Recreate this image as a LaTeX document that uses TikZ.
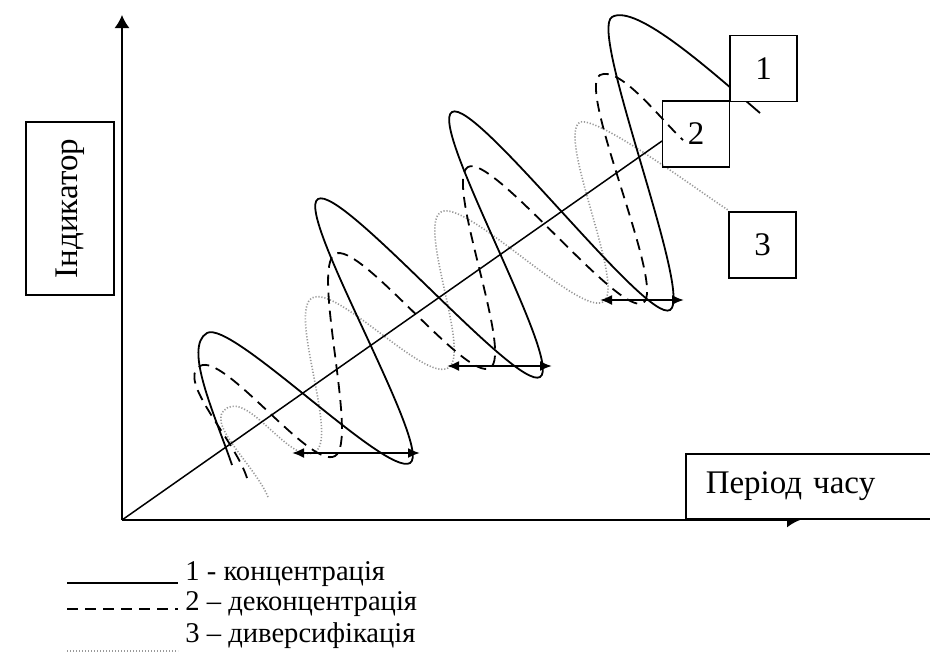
\documentclass[tikz,border=0pt]{standalone}
\usepackage{fontspec}
\setmainfont{Liberation Serif}
\usetikzlibrary{arrows.meta}

\begin{document}
\begin{tikzpicture}[x=0.5pt,y=-0.5pt,font=\fontsize{16.5}{19}\selectfont,
  labelbox/.style={draw,line width=0.75pt,inner sep=0pt},
  numbox/.style={labelbox,minimum width=33.5pt,minimum height=33pt},
  curve1/.style={line width=0.9pt},
  curve2/.style={line width=0.9pt,dash pattern=on 5.5pt off 3.5pt},
  curve3/.style={line width=0.8pt,black!40,dash pattern=on 0.6pt off 0.9pt},
  axisline/.style={line width=0.75pt,-{Latex[length=6.5pt,width=7.5pt]}},
  spanarrow/.style={line width=1pt,{Latex[length=6pt,width=5pt]}-{Latex[length=6pt,width=5pt]}},
  legtext/.style={anchor=base west,inner sep=0pt,font=\fontsize{14.3}{16}\selectfont}]
  \useasboundingbox (0,0) rectangle (930,654);
  \coordinate (o) at (122,520);
  \coordinate (ytip) at (122,15);
  \coordinate (xtip) at (800,520);
  \coordinate (diagend) at (662,141);
  \draw[curve3] (268,497) .. controls (255,465) and (203,422) .. (227,408)
    .. controls +(24,-14) and +(-24,14) .. (315,452)
    .. controls +(24,-14) and +(-24,14) .. (312,298)
    .. controls +(24,-14) and +(-24,14) .. (448,368)
    .. controls +(24,-14) and +(-24,14) .. (441,212)
    .. controls +(24,-14) and +(-24,14) .. (603,302)
    .. controls +(24,-14) and +(-24,14) .. (580,122)
    .. controls +(20,-5) and (700,192) .. (728,210);
  \draw[curve2] (247,478) .. controls (235,440) and (176,380) .. (200,366)
    .. controls +(24,-14) and +(-24,14) .. (335,456)
    .. controls +(24,-14) and +(-24,14) .. (335,254)
    .. controls +(24,-14) and +(-24,14) .. (490,368)
    .. controls +(24,-14) and +(-24,14) .. (468,167)
    .. controls +(24,-14) and +(-24,14) .. (643,303)
    .. controls +(24,-14) and +(-24,14) .. (600,75)
    .. controls +(20,-10) and +(-20,-18) .. (683,140);
  \draw[curve1] (232,465) .. controls (215,415) and (183,347) .. (207,333)
    .. controls +(24,-14) and +(-24,14) .. (410,463)
    .. controls +(24,-14) and +(-24,14) .. (318,199)
    .. controls +(24,-14) and +(-24,14) .. (540,377)
    .. controls +(24,-14) and +(-24,14) .. (452,112)
    .. controls +(24,-14) and +(-24,14) .. (670,310)
    .. controls +(24,-14) and +(-24,14) .. (612,17)
    .. controls +(24,-14) and (712,72) .. (760,113);
  \draw[line width=0.75pt] (o) -- (diagend);
  \draw[axisline] (o) -- (ytip);
  \draw[axisline] (o) -- (xtip);
  \coordinate (a1l) at (292,453);
  \coordinate (a1r) at (420,453);
  \coordinate (a2l) at (447,366);
  \coordinate (a2r) at (552,366);
  \coordinate (a3l) at (600,300);
  \coordinate (a3r) at (684,300);
  \draw[spanarrow] (a1l) -- (a1r);
  \draw[spanarrow] (a2l) -- (a2r);
  \draw[spanarrow] (a3l) -- (a3r);
  \node[numbox,fill=white] (n1) at (763.5,68.5) {1};
  \node[numbox] (n2) at (696,134) {2};
  \node[numbox,fill=white] (n3) at (762.5,245) {3};
  \node[labelbox,fill=white,anchor=north west,minimum height=32.5pt,text width=103pt,inner xsep=10pt,align=left] (time) at (685,453) {Період часу};
  \node[labelbox,rotate=90,minimum width=86.5pt,minimum height=44pt] (ind) at (70,208.5) {Індикатор};
  \coordinate (l1a) at (67,583);
  \coordinate (l1b) at (178,583);
  \coordinate (l2a) at (67,609);
  \coordinate (l2b) at (178,609);
  \coordinate (l3a) at (67,651);
  \coordinate (l3b) at (178,651);
  \draw[curve1] (l1a) -- (l1b);
  \draw[curve2] (l2a) -- (l2b);
  \draw[curve3] (l3a) -- (l3b);
  \node[legtext] (t1) at (185,580) {1 - концентрація};
  \node[legtext] (t2) at (185,610) {2 – деконцентрація};
  \node[legtext] (t3) at (185,642) {3 – диверсифікація};
\end{tikzpicture}
\end{document}
